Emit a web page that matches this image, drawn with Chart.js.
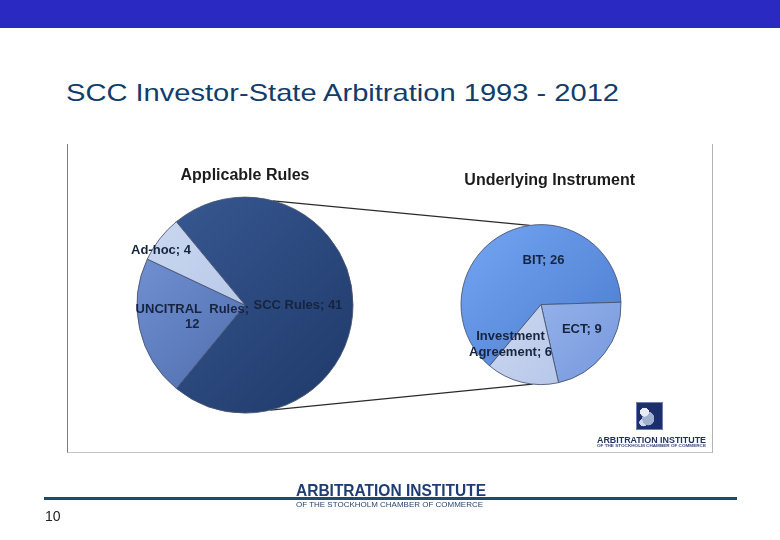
<!DOCTYPE html>
<html>
<head>
<meta charset="utf-8">
<script src="https://cdn.jsdelivr.net/npm/chart.js@4.4.0/dist/chart.umd.min.js"></script>
<style>
html,body{margin:0;padding:0;background:#fff;}
body{width:780px;height:540px;position:relative;overflow:hidden;font-family:"Liberation Sans",Arial,sans-serif;}
#topbar{position:absolute;left:0;top:0;width:780px;height:28px;background:#2a2ac3;}
.fit{position:absolute;white-space:nowrap;line-height:1;transform-origin:0 0;}
#title{left:66px;top:81px;font-size:24px;color:#123d6a;}
#frame{position:absolute;left:67px;top:144px;width:644px;height:308px;border-left:1px solid #7c7c7c;border-right:1px solid #b4b4b4;border-bottom:1px solid #c6c6c6;}
#overlay{position:absolute;left:0;top:0;}
#leftPie{position:absolute;left:125px;top:160px;}
#rightPie{position:absolute;left:447px;top:165px;}
#logoIcon{position:absolute;left:636px;top:402px;width:27px;height:28px;background:
  radial-gradient(circle at 30% 35%, #e8ecf4 0 18%, rgba(200,210,230,0.0) 19%),
  radial-gradient(ellipse at 45% 60%, #9fb0d0 0 30%, rgba(0,0,0,0) 32%),
  radial-gradient(circle at 25% 75%, #cfd8ea 0 14%, rgba(0,0,0,0) 15%),
  #1d2e6c;border:1px solid #6c7fb0;box-sizing:border-box;}
#logoText{top:436px;left:597px;font-size:9px;font-weight:bold;color:#1f2f5e;}
#logoSub{top:445px;left:597px;font-size:3.6px;font-weight:bold;color:#3a4a72;}
#footLine{position:absolute;left:44px;top:497px;width:693px;height:3px;background:#1b4a73;}
#footText{top:482px;left:296px;font-size:16.5px;font-weight:bold;color:#1f3d73;font-family:"Liberation Sans Narrow","Liberation Sans",Arial,sans-serif;}
#footSub{top:501px;left:296px;font-size:7.6px;color:#2a4470;}
#pageNo{top:509px;left:45px;font-size:14px;color:#222;}
</style>
</head>
<body>
<div id="topbar"></div>
<div id="title" class="fit" data-w="553">SCC Investor-State Arbitration 1993 - 2012</div>
<div id="frame"></div>
<canvas id="overlay" width="780" height="540"></canvas>
<canvas id="leftPie" width="240" height="261"></canvas>
<canvas id="rightPie" width="188" height="250"></canvas>
<div id="logoIcon"></div>
<div id="logoText" class="fit" data-w="109">ARBITRATION INSTITUTE</div>
<div id="logoSub" class="fit" data-w="109">OF THE STOCKHOLM CHAMBER OF COMMERCE</div>
<div id="footText" class="fit" data-w="190">ARBITRATION INSTITUTE</div>
<div id="footLine"></div>
<div id="footSub" class="fit" data-w="187">OF THE STOCKHOLM CHAMBER OF COMMERCE</div>
<div id="pageNo" class="fit">10</div>
<script>
// ---- data ----
const rulesTitle = 'Applicable Rules';
const rulesCategories = ['SCC Rules', 'UNCITRAL  Rules', 'Ad-hoc'];
const rulesValues = [41, 12, 4];

const instrumentTitle = 'Underlying Instrument';
const instrumentCategories = ['BIT', 'ECT', 'Investment Agreement'];
const instrumentValues = [26, 9, 6];

// ---- styles ----
const rulesColors = [['#36568f', '#223d6e'], ['#7191d4', '#45629f'], ['#c8d6ef', '#a8bce2']];
const instrumentColors = [['#6ea0ee', '#4f7ed0'], ['#a9c3f1', '#7c9de0'], ['#d7e0f4', '#b4c5e8']];
const LABEL_FONT = 'bold 13px "Liberation Sans", Arial, sans-serif';

// fit text widths
document.querySelectorAll('.fit[data-w]').forEach(el => {
  const w = el.getBoundingClientRect().width;
  const target = parseFloat(el.dataset.w);
  el.style.transform = 'scaleX(' + (target / w) + ')';
});

function sliceFill(colors, radius) {
  return (ctx) => {
    const pair = colors[ctx.dataIndex];
    const area = ctx.chart.chartArea;
    if (!area) return pair[0];
    const cx = (area.left + area.right) / 2, cy = (area.top + area.bottom) / 2;
    const g = ctx.chart.ctx.createLinearGradient(cx - radius * 0.75, cy - radius * 0.75, cx + radius * 0.75, cy + radius * 0.75);
    g.addColorStop(0, pair[0]);
    g.addColorStop(1, pair[1]);
    return g;
  };
}

function wrapText(ctx, text, maxWidth) {
  const words = text.split(' ');
  const lines = [];
  let line = '';
  words.forEach((w, i) => {
    const test = i === 0 ? w : line + ' ' + w;
    if (line !== '' && w !== '' && ctx.measureText(test).width > maxWidth) {
      lines.push(line);
      line = w;
    } else {
      line = test;
    }
  });
  lines.push(line);
  return lines;
}

const sliceLabels = {
  id: 'sliceLabels',
  afterDatasetsDraw(chart, args, opts) {
    const ctx = chart.ctx;
    const meta = chart.getDatasetMeta(0);
    const labels = chart.data.labels;
    const values = chart.data.datasets[0].data;
    ctx.save();
    ctx.font = opts.font;
    ctx.fillStyle = opts.color;
    ctx.textAlign = 'center';
    ctx.textBaseline = 'middle';
    meta.data.forEach((arc, i) => {
      const p = arc.getProps(['x', 'y', 'startAngle', 'endAngle', 'outerRadius'], true);
      const mid = (p.startAngle + p.endAngle) / 2;
      const f = opts.radial[i], n = opts.nudge[i];
      const cx = p.x + Math.cos(mid) * p.outerRadius * f + n[0];
      const cy = p.y + Math.sin(mid) * p.outerRadius * f + n[1];
      const lines = wrapText(ctx, labels[i] + '; ' + values[i], opts.maxWidth);
      lines.forEach((ln, k) => ctx.fillText(ln, cx, cy + (k - (lines.length - 1) / 2) * opts.lineHeight));
    });
    ctx.restore();
  }
};

function pieConfig(cats, vals, colors, radius, rotation, title, titleAlign, titlePad, labelOpts) {
  return {
    type: 'pie',
    data: {
      labels: cats,
      datasets: [{
        data: vals,
        backgroundColor: sliceFill(colors, radius),
        borderColor: 'rgba(70,82,112,0.85)',
        borderWidth: 1
      }]
    },
    options: {
      responsive: false,
      animation: false,
      devicePixelRatio: 1,
      radius: radius,
      rotation: rotation,
      layout: { padding: 0 },
      plugins: {
        legend: { display: false },
        tooltip: { enabled: false },
        title: {
          display: true,
          text: title,
          align: titleAlign,
          color: '#1c1c1c',
          font: { family: '"Liberation Sans", Arial, sans-serif', size: 16, weight: 'bold' },
          padding: titlePad
        },
        sliceLabels: Object.assign({ font: LABEL_FONT, color: '#17243f', lineHeight: 15.5 }, labelOpts)
      }
    },
    plugins: [sliceLabels]
  };
}

const leftChart = new Chart(document.getElementById('leftPie'),
  pieConfig(rulesCategories, rulesValues, rulesColors, 108, -39.5, rulesTitle, 'center', { top: 6, bottom: 4 },
    { maxWidth: 118, radial: [0.49, 0.5, 0.95], nudge: [[0, 0], [0, 0], [-3, 8]] }));

const rightChart = new Chart(document.getElementById('rightPie'),
  pieConfig(instrumentCategories, instrumentValues, instrumentColors, 80, 220, instrumentTitle, 'end', { top: 6, bottom: 4 },
    { maxWidth: 90, radial: [0.5, 0.55, 0.5], nudge: [[20, -8], [6, -2], [-21, 1]] }));

// connector lines between the two pies, from the pies' own geometry
(function drawConnectors() {
  const ov = document.getElementById('overlay').getContext('2d');
  const a = leftChart.getDatasetMeta(0).data[0];
  const b = rightChart.getDatasetMeta(0).data[0];
  const lc = leftChart.canvas, rc = rightChart.canvas;
  const L = { x: lc.offsetLeft + a.x, y: lc.offsetTop + a.y, r: a.outerRadius };
  const R = { x: rc.offsetLeft + b.x, y: rc.offsetTop + b.y, r: b.outerRadius };
  const anglePairs = [[-75, -98], [76.5, 96]];
  ov.strokeStyle = '#2a2a2a';
  ov.lineWidth = 1.2;
  anglePairs.forEach(([la, ra]) => {
    const t1 = la * Math.PI / 180, t2 = ra * Math.PI / 180;
    ov.beginPath();
    ov.moveTo(L.x + Math.cos(t1) * L.r, L.y + Math.sin(t1) * L.r);
    ov.lineTo(R.x + Math.cos(t2) * R.r, R.y + Math.sin(t2) * R.r);
    ov.stroke();
  });
})();
</script>
</body>
</html>
